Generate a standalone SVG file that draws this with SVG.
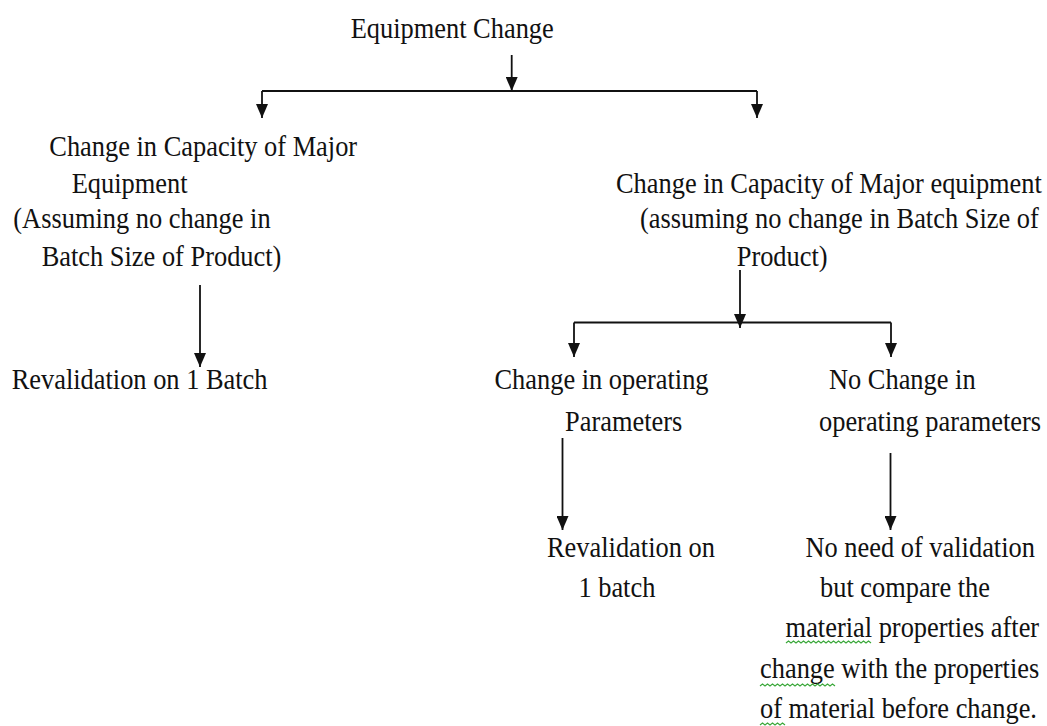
<svg xmlns="http://www.w3.org/2000/svg" width="1047" height="726" viewBox="0 0 1047 726">
  <style>
    .t { font-family: "Liberation Serif", "Times New Roman", serif; font-size: 30px; fill: #111; }
    .c { fill: none; stroke: #111; stroke-width: 1.8; }
    .sq { fill: none; stroke: #3aa83a; stroke-width: 1.2; }
  </style>
  <defs>
    <marker id="ah" viewBox="0 0 14 12" markerWidth="14" markerHeight="12" refX="14" refY="6" orient="auto" markerUnits="userSpaceOnUse">
      <path d="M0,0 L14,6 L0,12 z" fill="#111"/>
    </marker>
  </defs>
  <rect width="1047" height="726" fill="#fff"/>

  <!-- connectors -->
  <g id="connectors">
    <path class="c" d="M511.7,55 V91" marker-end="url(#ah)"/>
    <path class="c" d="M262,91 H757"/>
    <path class="c" d="M262,91 V118" marker-end="url(#ah)"/>
    <path class="c" d="M757,91 V118" marker-end="url(#ah)"/>
    <path class="c" d="M200,285 V367" marker-end="url(#ah)"/>
    <path class="c" d="M740,270 V328" marker-end="url(#ah)"/>
    <path class="c" d="M574,322.5 H891"/>
    <path class="c" d="M574,322.5 V357" marker-end="url(#ah)"/>
    <path class="c" d="M891,322.5 V357" marker-end="url(#ah)"/>
    <path class="c" d="M562.5,438 V530" marker-end="url(#ah)"/>
    <path class="c" d="M890.5,453 V530" marker-end="url(#ah)"/>
  </g>

  <g id="equipment-change">
    <text class="t" transform="translate(350.7 38.3) scale(0.88 1)">Equipment Change</text>
  </g>

  <g id="capacity-left">
    <text class="t" transform="translate(49.3 156) scale(0.88 1)">Change in Capacity of Major</text>
    <text class="t" transform="translate(71.7 192.7) scale(0.88 1)">Equipment</text>
    <text class="t" transform="translate(13.3 228.3) scale(0.88 1)">(Assuming no change in</text>
    <text class="t" transform="translate(41.7 265.7) scale(0.88 1)">Batch Size of Product)</text>
  </g>

  <g id="revalidation-left">
    <text class="t" transform="translate(11.7 389) scale(0.88 1)">Revalidation on 1 Batch</text>
  </g>

  <g id="capacity-right">
    <text class="t" transform="translate(616 193.3) scale(0.88 1)">Change in Capacity of Major equipment</text>
    <text class="t" transform="translate(640 228.3) scale(0.88 1)">(assuming no change in Batch Size of</text>
    <text class="t" transform="translate(736.7 266) scale(0.88 1)">Product)</text>
  </g>

  <g id="change-operating">
    <text class="t" transform="translate(494.5 388.5) scale(0.88 1)">Change in operating</text>
    <text class="t" transform="translate(565 430.5) scale(0.88 1)">Parameters</text>
  </g>

  <g id="no-change-operating">
    <text class="t" transform="translate(829 388.5) scale(0.88 1)">No Change in</text>
    <text class="t" transform="translate(819 430.5) scale(0.88 1)">operating parameters</text>
  </g>

  <g id="revalidation-right">
    <text class="t" transform="translate(547 556.7) scale(0.88 1)">Revalidation on</text>
    <text class="t" transform="translate(578.4 596.7) scale(0.88 1)">1 batch</text>
  </g>

  <g id="no-validation">
    <text class="t" transform="translate(805.5 556.7) scale(0.88 1)">No need of validation</text>
    <text class="t" transform="translate(820 597) scale(0.88 1)">but compare the</text>
    <text class="t" transform="translate(785.6 637.3) scale(0.88 1)">material properties after</text>
    <text class="t" transform="translate(760 678) scale(0.88 1)">change with the properties</text>
    <text class="t" transform="translate(760 718.3) scale(0.88 1)">of material before change.</text>
    <!-- spell-check squiggles -->
    <path class="sq" d="M786,643 l2.5,-2 l2.5,2 l2.5,-2 l2.5,2 l2.5,-2 l2.5,2 l2.5,-2 l2.5,2 l2.5,-2 l2.5,2 l2.5,-2 l2.5,2 l2.5,-2 l2.5,2 l2.5,-2 l2.5,2 l2.5,-2 l2.5,2 l2.5,-2 l2.5,2 l2.5,-2 l2.5,2 l2.5,-2 l2.5,2 l2.5,-2 l2.5,2 l2.5,-2 l2.5,2 l2.5,-2 l2.5,2 l2.5,-2 l2.5,2 l2.5,-2 l2.5,2"/>
    <path class="sq" d="M760,686 l2.5,-2 l2.5,2 l2.5,-2 l2.5,2 l2.5,-2 l2.5,2 l2.5,-2 l2.5,2 l2.5,-2 l2.5,2 l2.5,-2 l2.5,2 l2.5,-2 l2.5,2 l2.5,-2 l2.5,2 l2.5,-2 l2.5,2 l2.5,-2 l2.5,2 l2.5,-2 l2.5,2 l2.5,-2 l2.5,2 l2.5,-2 l2.5,2 l2.5,-2 l2.5,2 l2.5,-2 l2.5,2"/>
    <path class="sq" d="M760,725 l2.5,-2 l2.5,2 l2.5,-2 l2.5,2 l2.5,-2 l2.5,2 l2.5,-2 l2.5,2 l2.5,-2 l2.5,2"/>
  </g>
</svg>
